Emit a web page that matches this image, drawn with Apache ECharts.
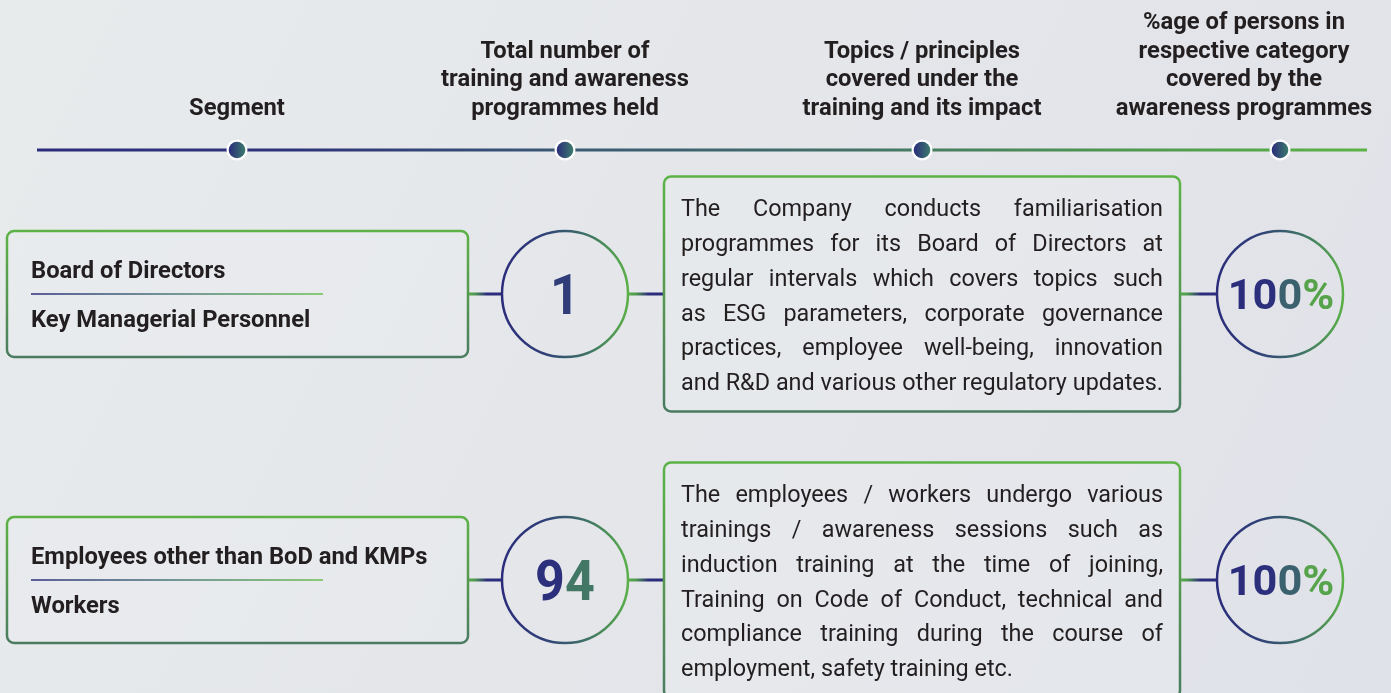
<!DOCTYPE html>
<html>
<head>
<meta charset="utf-8">
<script src="https://cdn.jsdelivr.net/npm/echarts@6/dist/echarts.min.js"></script>
<style>html,body{margin:0;padding:0;background:#e5e8eb;}#c{width:1391px;height:693px;}</style>
</head>
<body>
<div id="c"></div>
<script>
// ---------- content ----------
const headers = [
  ["Segment"],
  ["Total number of", "training and awareness", "programmes held"],
  ["Topics / principles", "covered under the", "training and its impact"],
  ["%age of persons in", "respective category", "covered by the", "awareness programmes"]
];
const segments = [
  ["Board of Directors", "Key Managerial Personnel"],
  ["Employees other than BoD and KMPs", "Workers"]
];
const programmeCounts = [1, 94];
const topicLines = [
  ["The Company conducts familiarisation",
   "programmes for its Board of Directors at",
   "regular intervals which covers topics such",
   "as ESG parameters, corporate governance",
   "practices, employee well-being, innovation",
   "and R&D and various other regulatory updates."],
  ["The employees / workers undergo various",
   "trainings / awareness sessions such as",
   "induction training at the time of joining,",
   "Training on Code of Conduct, technical and",
   "compliance training during the course of",
   "employment, safety training etc."]
];
const coveragePct = [100, 100];

// ---------- style / layout ----------
const NAVY = '#2b2c7b', GREEN = '#5cb346', DARK = '#231f20';
const FONT = 'Roboto';
const hGrad = (stops) => ({type:'linear', x:0, y:0, x2:1, y2:0,
  colorStops: stops.map((c,i)=>({offset: i/(stops.length-1), color: c}))});
const vGrad = (stops) => ({type:'linear', x:0, y:0, x2:0, y2:1,
  colorStops: stops.map((c,i)=>({offset: i/(stops.length-1), color: c}))});
const mctx = document.createElement('canvas').getContext('2d');
function tw(s, font){ mctx.font = font; return mctx.measureText(s).width; }

// colour ramp used for the big numbers (navy -> green across the circle)
const numRamp = [[0,'#2b2c7b'],[0.35,'#2c2f7b'],[0.5,'#313d78'],[0.65,'#417468'],[0.9,'#55a04c'],[1,'#5cb346']];
function hex2rgb(h){ return [1,3,5].map(i=>parseInt(h.substr(i,2),16)); }
function rampColor(t){
  t = Math.max(0, Math.min(1, t));
  for (let i=1;i<numRamp.length;i++){
    if (t <= numRamp[i][0]){
      const [t0,c0] = numRamp[i-1], [t1,c1] = numRamp[i];
      const f = (t-t0)/(t1-t0), a = hex2rgb(c0), b = hex2rgb(c1);
      return 'rgb(' + a.map((v,k)=>Math.round(v+(b[k]-v)*f)).join(',') + ')';
    }
  }
  return numRamp[numRamp.length-1][1];
}

const dotX = [237, 565, 922, 1280];
const headerX = [237, 565, 922, 1244];
const headerBottomY = 109, headerLH = 28.7;
const HEAD_FONT = `700 24px ${FONT}`, K_HEAD = 0.99;
const LABEL_FONT = `700 24px ${FONT}`, K_LABEL = 0.99;
const DESC_SIZE = 24.5, K_DESC = 0.955;
const DESC_FONT = `400 ${DESC_SIZE}px ${FONT}`;
const rowY = [294, 580];
const R = 63;

const els = [];
// background
els.push({type:'rect', z:0, shape:{x:0,y:0,width:1391,height:693},
  style:{fill:{type:'linear',x:0,y:0,x2:1,y2:1,colorStops:[{offset:0,color:'#e8ebec'},{offset:0.5,color:'#e4e6ea'},{offset:1,color:'#e0e2e9'}]}}});

// headers
headers.forEach((lines, i) => {
  const n = lines.length;
  lines.forEach((t, j) => {
    els.push({type:'text', z:5, x: headerX[i], y: headerBottomY - (n-1-j)*headerLH, scaleX: K_HEAD,
      style:{text:t, font:HEAD_FONT, fill:DARK, textAlign:'center', textVerticalAlign:'middle'}});
  });
});

// timeline
els.push({type:'line', z:2, shape:{x1:37,y1:150,x2:1367,y2:150},
  style:{lineWidth:3, stroke: hGrad([NAVY, '#2e3479', '#3a5a74', '#436f68', '#4f9552', GREEN])}});
dotX.forEach(x => {
  els.push({type:'circle', z:3, shape:{cx:x, cy:150, r:10.5}, style:{fill:'#ffffff'}});
  els.push({type:'circle', z:4, shape:{cx:x, cy:150, r:8.3}, style:{fill:hGrad([NAVY, '#3b7a6c'])}});
});

function connector(x1, x2, y){
  els.push({type:'line', z:2, shape:{x1, y1:y, x2, y2:y},
    style:{lineWidth:3, stroke:{type:'linear',x:0,y:0,x2:1,y2:0,colorStops:[{offset:0,color:GREEN},{offset:0.25,color:'#4f9552'},{offset:0.55,color:NAVY},{offset:1,color:NAVY}]}}});
}
// big number drawn char by char so each glyph takes its place on the colour ramp
function bigNumber(str, cx, cy, font, k, span){
  const ws = str.split('').map(ch => tw(ch, font) * k);
  const total = ws.reduce((a,b)=>a+b,0);
  let x = cx - total/2;
  str.split('').forEach((ch, i) => {
    const mid = x + ws[i]/2;
    const t = 0.5 + (mid - cx) / span;
    els.push({type:'text', z:6, x, y:cy, scaleX:k,
      style:{text:ch, font, fill:rampColor(t), textAlign:'left', textVerticalAlign:'middle'}});
    x += ws[i];
  });
}

const boxStroke = vGrad([GREEN, '#55994f', '#4a7b60']);
const ringStroke = hGrad([NAVY, '#2f3f78', '#3f7266', GREEN]);
rowY.forEach((cy, r) => {
  // segment box
  els.push({type:'rect', z:3, shape:{x:7, y:cy-63, width:461, height:126, r:7},
    style:{fill:'rgba(236,239,240,0.35)', stroke:boxStroke, lineWidth:2.5}});
  els.push({type:'text', z:5, x:31, y:cy-22, scaleX:K_LABEL,
    style:{text:segments[r][0], font:LABEL_FONT, fill:DARK, textAlign:'left', textVerticalAlign:'middle'}});
  els.push({type:'line', z:5, shape:{x1:31, y1:cy, x2:323, y2:cy}, style:{lineWidth:1.5, stroke:hGrad([NAVY, '#4b7b78', '#6cc04f'])}});
  els.push({type:'text', z:5, x:31, y:cy+27, scaleX:K_LABEL,
    style:{text:segments[r][1], font:LABEL_FONT, fill:DARK, textAlign:'left', textVerticalAlign:'middle'}});
  connector(468, 502, cy);
  // count circle
  els.push({type:'circle', z:3, shape:{cx:565, cy, r:R},
    style:{fill:'none', stroke:ringStroke, lineWidth:2.5}});
  bigNumber(String(programmeCounts[r]), 565, cy+6, `700 56px ${FONT}`, 0.93, 90);
  connector(629, 664, cy);
  // description box
  els.push({type:'rect', z:3, shape:{x:664, y:cy-117.5, width:516, height:235, r:7},
    style:{fill:'rgba(236,239,240,0.35)', stroke:boxStroke, lineWidth:2.5}});
  const lines = topicLines[r];
  const x0 = 681, W = 482, lh = 34.8, y0 = cy - 84;
  lines.forEach((ln, j) => {
    const words = ln.split(' ');
    const ws = words.map(w => tw(w, DESC_FONT) * K_DESC);
    const sum = ws.reduce((a,b)=>a+b, 0);
    let gap = tw(' ', DESC_FONT) * K_DESC;
    const last = j === lines.length - 1;
    if ((!last || sum + gap*(words.length-1) > W*0.97) && words.length > 1) gap = (W - sum) / (words.length - 1);
    let x = x0;
    words.forEach((w, k) => {
      els.push({type:'text', z:5, x, y: y0 + j*lh, scaleX:K_DESC,
        style:{text:w, font:DESC_FONT, fill:DARK, textAlign:'left', textVerticalAlign:'middle'}});
      x += ws[k] + gap;
    });
  });
  connector(1180, 1217, cy);
  // percentage circle
  els.push({type:'circle', z:3, shape:{cx:1280, cy, r:R},
    style:{fill:'none', stroke:ringStroke, lineWidth:2.5}});
  bigNumber(coveragePct[r] + '%', 1281, cy+4, `700 42px ${FONT}`, 1.03, 90);
});

const chart = echarts.init(document.getElementById('c'), null, {renderer:'canvas'});
chart.setOption({
  backgroundColor:'#e5e8eb',
  animation:false,
  graphic:{elements: els}
});
</script>
</body>
</html>
